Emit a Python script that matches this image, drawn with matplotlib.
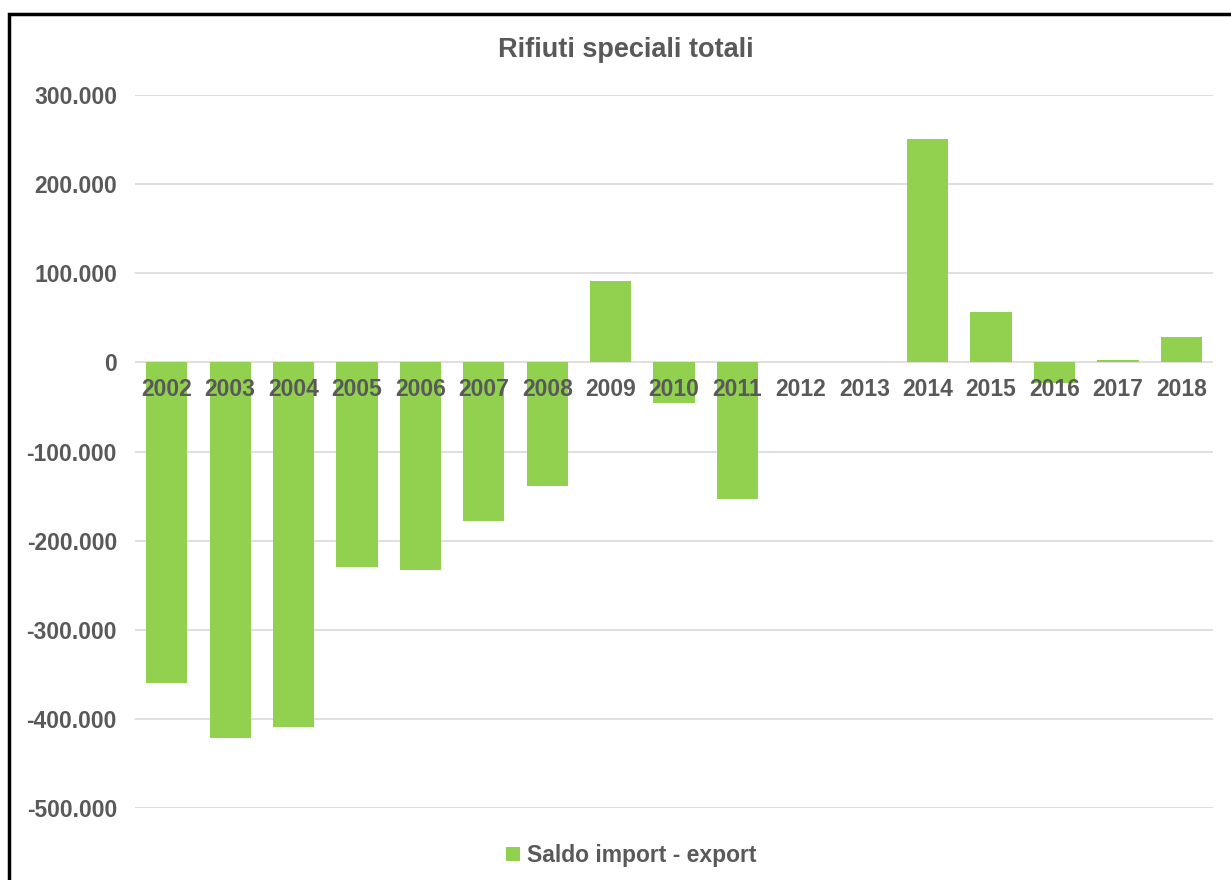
import matplotlib.pyplot as plt
from matplotlib.patches import Rectangle
from matplotlib.ticker import FuncFormatter

# dati
anni = ['2002', '2003', '2004', '2005', '2006', '2007', '2008', '2009', '2010',
        '2011', '2012', '2013', '2014', '2015', '2016', '2017', '2018']
saldo = [-360000, -421000, -409000, -230000, -233000, -178000, -139000, 91000, -45000,
         -153000, 0, 0, 251000, 56000, -23000, 2500, 29000]
yticks = list(range(-500000, 300001, 100000))

plt.rcParams['font.family'] = ['Liberation Sans', 'DejaVu Sans']
grigio = '#595959'
verde = '#92D050'

fig = plt.figure(figsize=(12.31, 8.80), dpi=100)
ax = fig.add_axes([0.1097, 0.0818, 0.8757, 0.8102])

x = range(len(anni))
ax.bar(x, saldo, width=0.65, color=verde, label='Saldo import - export', zorder=1)

ax.set_ylim(-500000, 300000)
ax.set_xlim(-0.5, len(anni) - 0.5)
ax.set_yticks(yticks)
ax.yaxis.set_major_formatter(FuncFormatter(lambda v, p: f'{v:,.0f}'.replace(',', '.')))

# griglia dietro le barre, etichette sopra
for yt in yticks:
    ax.axhline(yt, color='#d9d9d9', linewidth=1.2, zorder=0)

for s in ['left', 'right', 'top', 'bottom']:
    ax.spines[s].set_visible(False)
ax.set_xticks(list(x))
ax.set_xticklabels(anni)
ax.xaxis.set_ticks_position('bottom')
ax.spines['bottom'].set_position(('data', 0))
ax.tick_params(axis='x', length=0, pad=11, labelsize=16.5, labelcolor=grigio)
ax.tick_params(axis='y', length=0, pad=13, labelsize=16.5, labelcolor=grigio)
for lab in ax.get_xticklabels() + ax.get_yticklabels():
    lab.set_fontweight('bold')

fig.text(0.508, 0.943, 'Rifiuti speciali totali', ha='center', va='center',
         fontsize=19.5, fontweight='bold', color=grigio)

leg = fig.legend(loc='center', bbox_to_anchor=(0.513, 0.028), frameon=False,
                 handlelength=0.6, handleheight=0.6, handletextpad=0.3,
                 prop={'size': 16.5, 'weight': 'bold'})
for t in leg.get_texts():
    t.set_color(grigio)

# cornice nera
fig.patches.append(Rectangle((9 / 1231, -0.1), 1.2, 1.1 - 14 / 880, transform=fig.transFigure,
                             fill=False, edgecolor='black', linewidth=2.5, clip_on=False))

fig.savefig('out.png', dpi=100)
